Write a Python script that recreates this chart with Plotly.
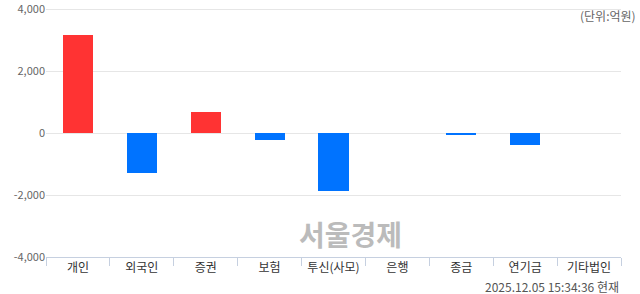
import plotly.graph_objects as go

categories = ["개인", "외국인", "증권", "보험", "투신(사모)", "은행", "종금", "연기금", "기타법인"]
values = [3150, -1280, 690, -210, -1860, None, -35, -400, 0]
tick_vals = [-4000, -2000, 0, 2000, 4000]
tick_text = ["-4,000", "-2,000", "0", "2,000", "4,000"]

colors = ["#ff3333" if (v is not None and v > 0) else "#0073ff" for v in values]
line_w = [0 if v != 0 else 1 for v in values]

fig = go.Figure()
fig.add_trace(go.Bar(
    x=categories, y=values, width=0.47,
    marker=dict(color=colors, line=dict(color="white", width=line_w)),
    hoverinfo="skip",
))

font = "Noto Sans CJK KR"
fig.update_layout(
    width=640, height=294,
    margin=dict(l=45.5, r=18.5, t=5.9, b=37.3),
    plot_bgcolor="white", paper_bgcolor="white",
    showlegend=False,
    bargap=0,
    font=dict(family=font, size=11, color="#333"),
    xaxis=dict(
        type="category", showgrid=False, zeroline=False, automargin=False,
        showline=True, linecolor="#c6d0e0", linewidth=1,
        ticks="outside", ticklen=8, tickcolor="#c6d0e0", tickson="boundaries",
        tickfont=dict(family=font, size=12, color="#333"),
        range=[-0.5, 8.5],
    ),
    yaxis=dict(
        range=[-4000, 4100], tickvals=tick_vals, ticktext=tick_text, automargin=False,
        ticklabeloverflow="allow",
        showgrid=True, gridcolor="#e6e6e6", gridwidth=1,
        zeroline=True, zerolinecolor="#e6e6e6", zerolinewidth=1,
        tickfont=dict(family=font, size=11, color="#666"),
        ticks="", ticklen=0,
    ),
    annotations=[
        dict(text="(단위:억원)", xref="paper", yref="paper", x=1.03, y=0.964,
             xanchor="right", yanchor="middle", showarrow=False,
             font=dict(family=font, size=12, color="#666")),
        dict(text="<b>서울경제</b>", xref="x", yref="paper", x=4.27, y=0.0905,
             xanchor="center", yanchor="middle", showarrow=False,
             font=dict(family=font, size=28, color="#bbbbbb")),
        dict(text="2025.12.05 15:34:36 현재", xref="paper", yref="paper", x=1.0, y=-0.117,
             xanchor="right", yanchor="middle", showarrow=False,
             font=dict(family=font, size=12, color="#555")),
    ],
)

fig.write_html("out.html")
